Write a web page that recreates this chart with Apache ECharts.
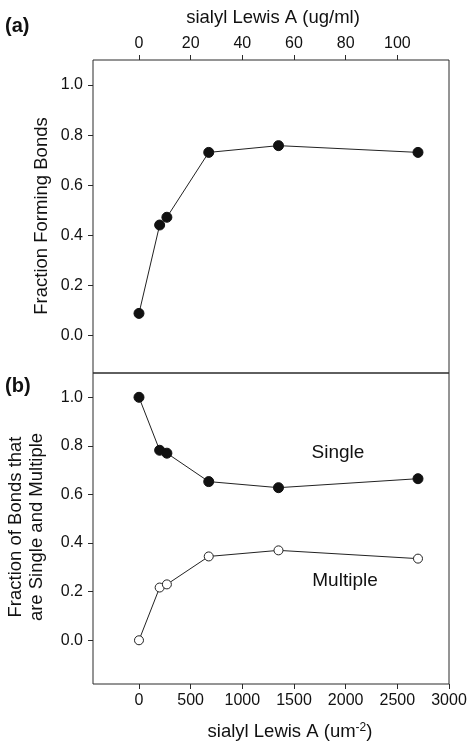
<!DOCTYPE html>
<html>
<head>
<meta charset="utf-8">
<script src="https://cdn.jsdelivr.net/npm/echarts@6/dist/echarts.min.js"></script>
<style>
html,body{margin:0;padding:0;background:#fff;}
#c{width:470px;height:747px;}
</style>
</head>
<body>
<div id="c"></div>
<script>
// Data (x in um^-2)
var xValues = [0, 200, 270, 675, 1350, 2700];
var fractionForming = [0.088, 0.441, 0.472, 0.731, 0.758, 0.731];
var fractionSingle = [1.0, 0.782, 0.77, 0.653, 0.628, 0.665];
var fractionMultiple = [0.0, 0.217, 0.23, 0.345, 0.37, 0.336];
var topTicks = [0, 20, 40, 60, 80, 100];
var bottomTicks = [0, 500, 1000, 1500, 2000, 2500, 3000];
var yTicks = [0, 0.2, 0.4, 0.6, 0.8, 1.0];

function pairs(xs, ys) { return xs.map(function (x, i) { return [x, ys[i]]; }); }

var FONT = 'Liberation Sans, Arial, Helvetica, sans-serif';
var FRAME = '#2a2a2a';
var labelStyle = { color: '#111', fontSize: 16, fontFamily: FONT };
var tickStyle = { show: true, inside: false, length: 5, lineStyle: { color: FRAME, width: 1 } };
var noLine = { show: false, onZero: false };

var chart = echarts.init(document.getElementById('c'), null, { renderer: 'canvas' });

var option = {
  backgroundColor: '#fff',
  animation: false,
  grid: [
    { left: 93, right: 21, top: 60, bottom: 374, show: true, borderColor: FRAME, borderWidth: 1, backgroundColor: 'transparent' },
    { left: 93, right: 21, top: 373, bottom: 63, show: true, borderColor: FRAME, borderWidth: 1, backgroundColor: 'transparent' }
  ],
  xAxis: [
    { gridIndex: 0, type: 'value', position: 'top', min: -17.8, max: 120,
      axisLine: noLine, splitLine: { show: false },
      axisTick: Object.assign({ customValues: topTicks }, tickStyle),
      axisLabel: Object.assign({ customValues: topTicks, margin: 8, formatter: function (v) { return String(v); } }, labelStyle) },
    { gridIndex: 0, type: 'value', position: 'bottom', min: -445, max: 3000, show: false, axisLine: noLine },
    { gridIndex: 1, type: 'value', position: 'bottom', min: -445, max: 3000,
      axisLine: noLine, splitLine: { show: false },
      axisTick: Object.assign({ customValues: bottomTicks }, tickStyle),
      axisLabel: Object.assign({ customValues: bottomTicks, margin: 9, formatter: function (v) { return String(v); } }, labelStyle) }
  ],
  yAxis: [
    { gridIndex: 0, type: 'value', min: -0.15, max: 1.1,
      axisLine: noLine, splitLine: { show: false },
      axisTick: Object.assign({ customValues: yTicks }, tickStyle),
      axisLabel: Object.assign({ customValues: yTicks, margin: 10, formatter: function (v) { return v.toFixed(1); } }, labelStyle) },
    { gridIndex: 1, type: 'value', min: -0.18, max: 1.1,
      axisLine: noLine, splitLine: { show: false },
      axisTick: Object.assign({ customValues: yTicks }, tickStyle),
      axisLabel: Object.assign({ customValues: yTicks, margin: 10, formatter: function (v) { return v.toFixed(1); } }, labelStyle) }
  ],
  series: [
    { type: 'line', xAxisIndex: 1, yAxisIndex: 0, data: pairs(xValues, fractionForming),
      symbol: 'circle', symbolSize: 10, itemStyle: { color: '#111', borderColor: '#111', borderWidth: 1 },
      lineStyle: { color: '#222', width: 1 } },
    { type: 'line', xAxisIndex: 2, yAxisIndex: 1, data: pairs(xValues, fractionSingle),
      symbol: 'circle', symbolSize: 10, itemStyle: { color: '#111', borderColor: '#111', borderWidth: 1 },
      lineStyle: { color: '#222', width: 1 } },
    { type: 'line', xAxisIndex: 2, yAxisIndex: 1, data: pairs(xValues, fractionMultiple),
      symbol: 'circle', symbolSize: 9, itemStyle: { color: '#fff', borderColor: '#222', borderWidth: 1 },
      lineStyle: { color: '#222', width: 1 } }
  ],
  graphic: [
    { type: 'text', left: 5, top: 16, style: { text: '(a)', font: 'bold 20px ' + FONT, fill: '#111' } },
    { type: 'text', left: 5, top: 376, style: { text: '(b)', font: 'bold 20px ' + FONT, fill: '#111' } },
    { type: 'text', x: 273, y: 18, style: { text: 'sialyl Lewis A (ug/ml)', font: '18.5px ' + FONT, fill: '#111', align: 'center', verticalAlign: 'middle' } },
    { type: 'text', x: 290, y: 732, style: {
        text: 'sialyl Lewis A (um{sup|-2})', font: '18.5px ' + FONT, fill: '#111', align: 'center', verticalAlign: 'middle',
        rich: { sup: { fontSize: 12, fontFamily: FONT, fill: '#111', verticalAlign: 'top', padding: [0, 0, 9, 0] } } } },
    { type: 'text', x: 42, y: 216, rotation: Math.PI / 2, style: { text: 'Fraction Forming Bonds', font: '18.5px ' + FONT, fill: '#111', align: 'center', verticalAlign: 'middle' } },
    { type: 'text', x: 26, y: 527, rotation: Math.PI / 2, style: { text: 'Fraction of Bonds that\nare Single and Multiple', font: '18.5px ' + FONT, fill: '#111', align: 'center', verticalAlign: 'middle', lineHeight: 21 } },
    { type: 'text', x: 338, y: 453, style: { text: 'Single', font: '19px ' + FONT, fill: '#111', align: 'center', verticalAlign: 'middle' } },
    { type: 'text', x: 345, y: 581, style: { text: 'Multiple', font: '19px ' + FONT, fill: '#111', align: 'center', verticalAlign: 'middle' } }
  ]
};
chart.setOption(option);
</script>
</body>
</html>
